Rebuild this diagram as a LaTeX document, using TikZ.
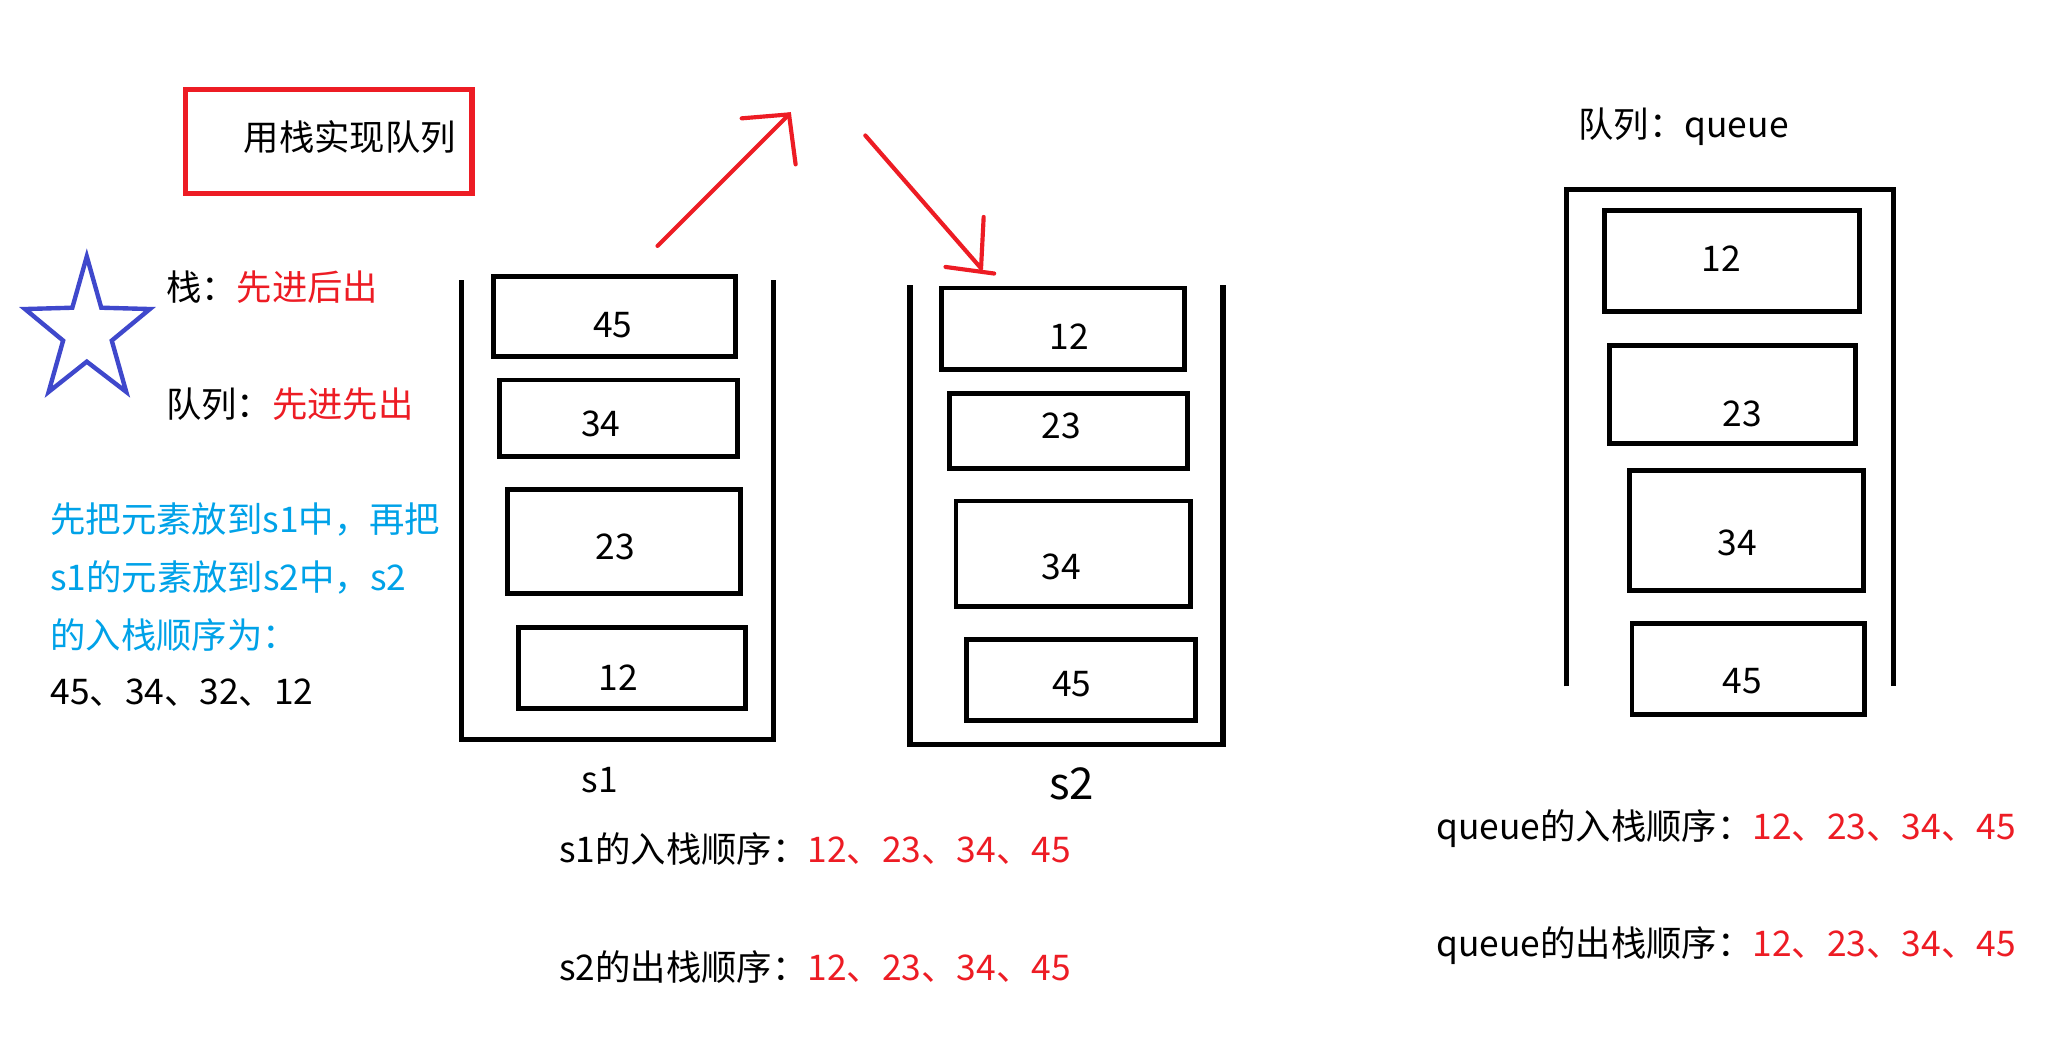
\documentclass[tikz,border=0pt]{standalone}
\usepackage{fontspec}
\setmainfont{Noto Sans CJK SC}
\usepackage{tikz}
\usetikzlibrary{positioning}
\usepackage{xcolor}
\definecolor{paintred}{RGB}{237,28,36}
\definecolor{paintblue}{RGB}{63,72,204}
\definecolor{paintcyan}{RGB}{0,162,232}

\begin{document}
\begin{tikzpicture}[x=0.02cm, y=-0.02cm,
  cell/.style={line width=2.1pt},
  wall/.style={line width=2.2pt},
  txt/.style={anchor=west, inner sep=0pt, font=\fontsize{15.3}{18}\selectfont},
  num/.style={inner sep=0pt, font=\fontsize{15.3}{18}\selectfont},
  hand/.style={paintred, line width=1.8pt, line cap=round}]
  \useasboundingbox (0,0) rectangle (1568,804);
  \fill[white] (0,0) rectangle (1568,804);

  % title and star
  \draw[paintred, line width=2.3pt] (141,68) rectangle (359,147);
  \node[txt] (title) at (185,104) {用栈实现队列};
  \draw[paintblue, line width=1.9pt, line join=miter]
    (66,195) -- (77,234) -- (114,235) -- (85,259) -- (96,298) -- (66,275)
    -- (37,298) -- (48,259) -- (19,235) -- (55,234) -- cycle;
  \node[txt] (stackrule) at (126,218) {栈：\textcolor{paintred}{先进后出}};
  \node[txt] (queuerule) at (126,307) {队列：\textcolor{paintred}{先进先出}};

  % note on the left
  \node[txt, paintcyan] (note1) at (38,395) {先把元素放到s1中，再把};
  \node[txt, paintcyan] (note2) at (38,439) {s1的元素放到s2中，s2};
  \node[txt, paintcyan] (note3) at (38,483) {的入栈顺序为：};
  \node[txt] (note4) at (38,527) {45、34、32、12};

  % the two stacks
  \draw[wall] (351,213) -- (351,562) -- (588,562) -- (588,213);
  \draw[wall] (692,217) -- (692,566) -- (930,566) -- (930,217);
  \foreach \xa/\ya/\xb/\yb/\lx/\ly/\v/\nm in {
      375/210/559/271/466/247/45/s1a, 380/289/561/347/457/322/34/s1b,
      386/372/563/451/468/416/23/s1c, 394/477/567/539/470/515/12/s1d,
      716/219/901/281/813/256/12/s2a, 722/299/903/356/807/324/23/s2b,
      727/381/905/461/807/431/34/s2c, 735/486/909/548/815/520/45/s2d} {
    \draw[cell] (\xa,\ya) rectangle (\xb,\yb);
    \node[num] (\nm) at (\lx,\ly) {\v};
  }
  \node[num] (s1name) at (456,593) {s1};
  \node[num, font=\fontsize{19}{22}\selectfont] (s2name) at (815,596) {s2};

  % hand drawn arrows
  \coordinate (up0) at (500,187);
  \coordinate (up1) at (600,87);
  \coordinate (dn0) at (658,103);
  \coordinate (dn1) at (746,204);
  \draw[hand] (up0) -- (up1);
  \draw[hand] (564,90) -- (up1) -- (605,125);
  \draw[hand] (dn0) -- (dn1);
  \draw[hand] (748,165) -- (dn1);
  \draw[hand] (719,203) -- (756,208);

  % queue
  \node[txt] (qtitle) at (1200,96) {队列：queue};
  \draw[wall] (1191,522) -- (1191,144) -- (1440,144) -- (1440,522);
  \foreach \xa/\ya/\xb/\yb/\lx/\ly/\v/\nm in {
      1220/160/1414/237/1309/197/12/qa, 1224/263/1411/337/1325/315/23/qb,
      1239/358/1417/449/1321/413/34/qc, 1241/474/1418/543/1325/518/45/qd} {
    \draw[cell] (\xa,\ya) rectangle (\xb,\yb);
    \node[num] (\nm) at (\lx,\ly) {\v};
  }

  % orders
  \node[txt] (s1in) at (425,646) {s1的入栈顺序：\textcolor{paintred}{12、23、34、45}};
  \node[txt] (s2out) at (425,735) {s2的出栈顺序：\textcolor{paintred}{12、23、34、45}};
  \node[txt] (qin) at (1092,630) {queue的入栈顺序：\textcolor{paintred}{12、23、34、45}};
  \node[txt] (qout) at (1092,719) {queue的出栈顺序：\textcolor{paintred}{12、23、34、45}};
\end{tikzpicture}
\end{document}
